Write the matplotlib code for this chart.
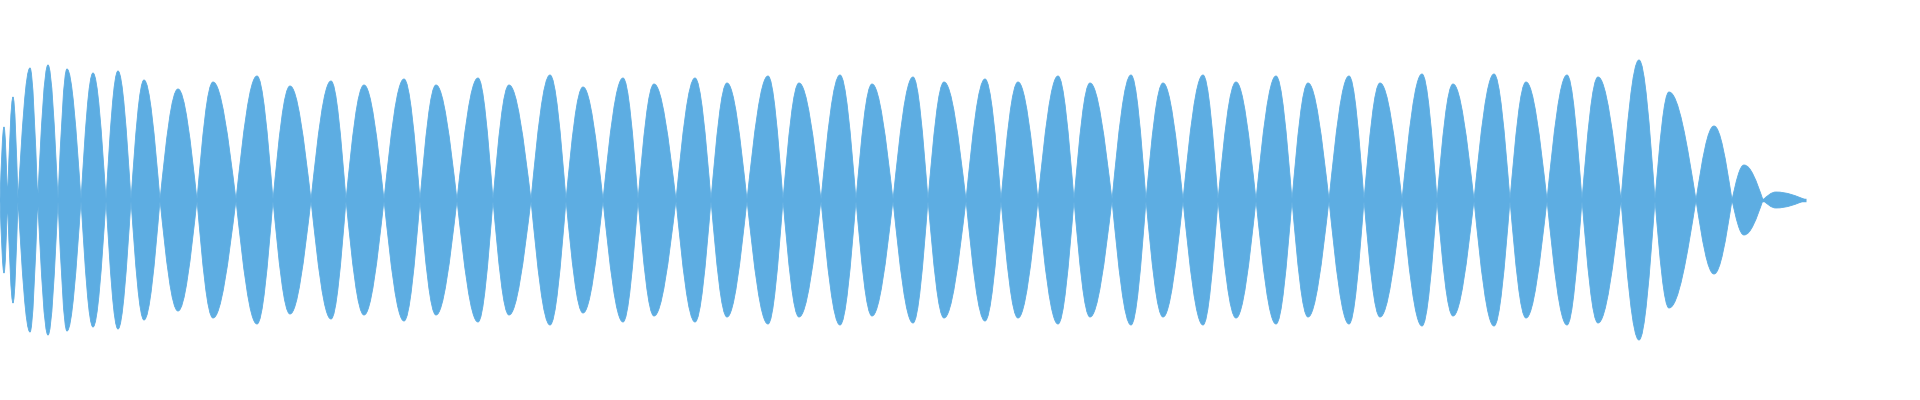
import matplotlib

matplotlib.use("Agg")

import matplotlib.pyplot as plt
from matplotlib.path import Path
from matplotlib.patches import PathPatch

# zero crossings of the envelope (time axis, 0..1920)
nodes = [
    0, 7.5, 18, 37.7, 58, 81, 106, 131, 160, 197, 236, 273, 311, 346, 384,
    420, 457, 493, 531, 566, 603, 638, 676, 711, 747, 783, 821, 856, 893,
    928, 966, 1001, 1038, 1074, 1112, 1146, 1183, 1218, 1256, 1292, 1329,
    1364, 1402, 1437, 1474, 1510, 1547, 1582, 1621, 1655, 1696, 1732, 1763,
    1806,
]

# position of each lobe's maximum
peak_t = [
    4, 13, 30, 48, 67, 93, 118, 144, 178, 213, 257, 290, 331, 364, 404, 436,
    478, 509, 550, 583, 623, 654, 695, 727, 768, 799, 840, 872, 913, 944,
    985, 1018, 1058, 1090, 1131, 1163, 1203, 1236, 1276, 1308, 1349, 1380,
    1422, 1453, 1494, 1526, 1567, 1598, 1639, 1669, 1714, 1744, 1776,
]

# peak amplitude of each lobe (full scale = 1)
peak_amp = [
    0.365, 0.515, 0.66, 0.675, 0.655, 0.635, 0.645, 0.60, 0.555, 0.59, 0.62,
    0.57, 0.595, 0.575, 0.605, 0.575, 0.61, 0.575, 0.625, 0.565, 0.61, 0.58,
    0.61, 0.585, 0.62, 0.585, 0.625, 0.58, 0.615, 0.59, 0.605, 0.59, 0.62,
    0.585, 0.625, 0.585, 0.625, 0.59, 0.62, 0.585, 0.62, 0.585, 0.63, 0.58,
    0.63, 0.59, 0.625, 0.615, 0.70, 0.54, 0.37, 0.175, 0.04,
]

COLOR = "#5dade2"
# cubic bezier factors for a quarter sine wave
K1, K2, KY = 0.3343, 0.6419, 0.5251


def lobe_path(x0, xp, x1, a):
    wl = xp - x0
    wr = x1 - xp
    verts = [(x0, 0.0)]
    for s in (1, -1):
        if s == -1:
            verts.append((x0, 0.0))
        verts += [
            (x0 + K1 * wl, s * KY * a), (x0 + K2 * wl, s * a), (xp, s * a),
            (xp + (1 - K2) * wr, s * a), (xp + (1 - K1) * wr, s * KY * a), (x1, 0.0),
        ]
    codes = [Path.MOVETO] + [Path.CURVE4] * 6 + [Path.MOVETO] + [Path.CURVE4] * 6
    return verts, codes


fig = plt.figure(figsize=(19.2, 4), dpi=100)
ax = fig.add_axes([0, 0, 1, 1])

all_verts, all_codes = [], []
for i, (xp, a) in enumerate(zip(peak_t, peak_amp)):
    v, c = lobe_path(nodes[i], xp, nodes[i + 1], a)
    all_verts += v
    all_codes += c

# close each half by drawing the fill of both halves as separate subpaths
ax.add_patch(PathPatch(Path(all_verts, all_codes), facecolor=COLOR,
                       edgecolor=COLOR, linewidth=0.6))
ax.plot([nodes[0], nodes[-1]], [0, 0], color=COLOR, linewidth=2.5,
        solid_capstyle="butt")

ax.set_xlim(0, 1920)
ax.set_ylim(-1, 1)
ax.axis("off")

fig.savefig("out.png", dpi=100, facecolor="white")
